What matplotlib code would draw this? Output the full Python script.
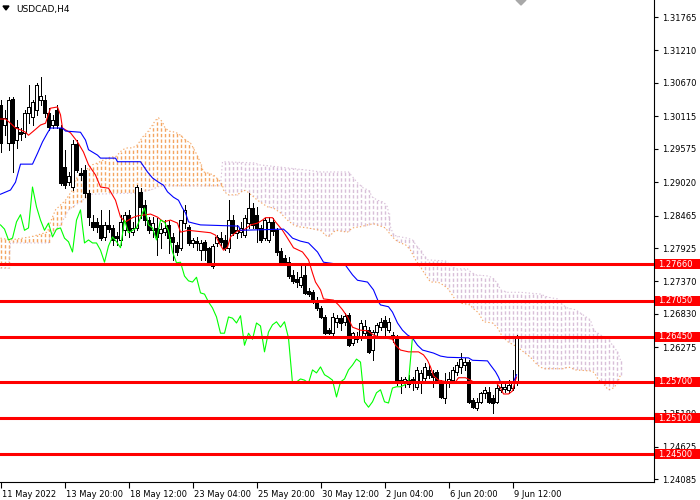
import numpy as np
import matplotlib
matplotlib.use("Agg")
import matplotlib.pyplot as plt
from matplotlib import transforms, patches
from matplotlib.collections import LineCollection

plt.rcParams['font.family'] = ['DejaVu Sans']

# ---------------- data (USDCAD H4) ----------------
opens = [
    1.3030, 1.2997, 1.2967, 1.3040, 1.2972, 1.2985, 1.2984, 1.3017, 1.3010, 1.3022,
    1.3039, 1.3039, 1.3017, 1.2997, 1.3022, 1.2992, 1.2927, 1.2902, 1.2894, 1.2966,
    1.2917, 1.2922, 1.2884, 1.2836, 1.2836, 1.2831, 1.2811, 1.2831, 1.2826, 1.2813,
    1.2806, 1.2822, 1.2848, 1.2819, 1.2826, 1.2886, 1.2864, 1.2839, 1.2822, 1.2826,
    1.2818, 1.2819, 1.2831, 1.2811, 1.2798, 1.2793, 1.2834, 1.2828, 1.2801, 1.2804,
    1.2789, 1.2803, 1.2793, 1.2763, 1.2801, 1.2809, 1.2806, 1.2793, 1.2839, 1.2818,
    1.2819, 1.2814, 1.2834, 1.2859, 1.2848, 1.2826, 1.2809, 1.2806, 1.2836, 1.2822,
    1.2788, 1.2776, 1.2769, 1.2748, 1.2741, 1.2731, 1.2748, 1.2721, 1.2719, 1.2705,
    1.2693, 1.2678, 1.2656, 1.2651, 1.2670, 1.2676, 1.2670, 1.2681, 1.2635, 1.2646,
    1.2645, 1.2651, 1.2656, 1.2623, 1.2653, 1.2661, 1.2673, 1.2656, 1.2648, 1.2643,
    1.2573, 1.2568, 1.2567, 1.2575, 1.2562, 1.2568, 1.2577, 1.2590, 1.2585, 1.2587,
    1.2570, 1.2543, 1.2568, 1.2573, 1.2587, 1.2595, 1.2598, 1.2603, 1.2540, 1.2527,
    1.2537, 1.2552, 1.2553, 1.2543, 1.2537, 1.2557, 1.2558, 1.2557, 1.2560, 1.2568]
highs = [
    1.3039, 1.3022, 1.3044, 1.3044, 1.3005, 1.2992, 1.3022, 1.3064, 1.3039, 1.3067,
    1.3077, 1.3047, 1.3025, 1.3014, 1.3030, 1.2997, 1.2956, 1.2919, 1.2972, 1.2972,
    1.2926, 1.2931, 1.2889, 1.2848, 1.2843, 1.2856, 1.2836, 1.2856, 1.2831, 1.2819,
    1.2848, 1.2852, 1.2856, 1.2836, 1.2897, 1.2892, 1.2872, 1.2844, 1.2844, 1.2843,
    1.2834, 1.2839, 1.2839, 1.2818, 1.2803, 1.2839, 1.2864, 1.2831, 1.2809, 1.2811,
    1.2806, 1.2806, 1.2794, 1.2799, 1.2814, 1.2819, 1.2814, 1.2872, 1.2848, 1.2831,
    1.2836, 1.2848, 1.2884, 1.2867, 1.2861, 1.2831, 1.2843, 1.2844, 1.2843, 1.2826,
    1.2793, 1.2781, 1.2778, 1.2756, 1.2753, 1.2764, 1.2764, 1.2726, 1.2723, 1.2711,
    1.2696, 1.2681, 1.2660, 1.2685, 1.2681, 1.2681, 1.2685, 1.2685, 1.2653, 1.2653,
    1.2673, 1.2673, 1.2661, 1.2656, 1.2668, 1.2676, 1.2680, 1.2676, 1.2653, 1.2648,
    1.2578, 1.2578, 1.2582, 1.2578, 1.2595, 1.2590, 1.2602, 1.2598, 1.2590, 1.2590,
    1.2573, 1.2585, 1.2587, 1.2595, 1.2603, 1.2618, 1.2610, 1.2606, 1.2543, 1.2543,
    1.2553, 1.2562, 1.2562, 1.2548, 1.2565, 1.2568, 1.2570, 1.2573, 1.2590, 1.2648]
lows = [
    1.2952, 1.2980, 1.2956, 1.2919, 1.2959, 1.2972, 1.2977, 1.3000, 1.2997, 1.3014,
    1.3030, 1.3010, 1.2989, 1.2992, 1.2992, 1.2897, 1.2892, 1.2897, 1.2889, 1.2919,
    1.2906, 1.2877, 1.2831, 1.2822, 1.2819, 1.2806, 1.2806, 1.2819, 1.2798, 1.2798,
    1.2798, 1.2814, 1.2811, 1.2814, 1.2822, 1.2843, 1.2831, 1.2818, 1.2811, 1.2781,
    1.2793, 1.2814, 1.2784, 1.2773, 1.2781, 1.2789, 1.2826, 1.2798, 1.2794, 1.2789,
    1.2773, 1.2773, 1.2766, 1.2759, 1.2796, 1.2798, 1.2789, 1.2786, 1.2814, 1.2809,
    1.2811, 1.2811, 1.2826, 1.2826, 1.2803, 1.2803, 1.2806, 1.2803, 1.2814, 1.2781,
    1.2766, 1.2766, 1.2743, 1.2734, 1.2728, 1.2728, 1.2716, 1.2713, 1.2701, 1.2690,
    1.2676, 1.2650, 1.2650, 1.2648, 1.2661, 1.2656, 1.2665, 1.2630, 1.2631, 1.2636,
    1.2640, 1.2645, 1.2618, 1.2606, 1.2648, 1.2656, 1.2648, 1.2653, 1.2636, 1.2565,
    1.2552, 1.2562, 1.2562, 1.2557, 1.2558, 1.2552, 1.2573, 1.2577, 1.2562, 1.2568,
    1.2543, 1.2535, 1.2562, 1.2570, 1.2582, 1.2585, 1.2590, 1.2535, 1.2527, 1.2523,
    1.2535, 1.2543, 1.2535, 1.2518, 1.2535, 1.2553, 1.2553, 1.2552, 1.2557, 1.2565]
closes = [
    1.2967, 1.3009, 1.3039, 1.2967, 1.2994, 1.2982, 1.3017, 1.3027, 1.3035, 1.3064,
    1.3045, 1.3017, 1.2994, 1.3005, 1.2997, 1.2901, 1.2897, 1.2912, 1.2966, 1.2922,
    1.2914, 1.2884, 1.2844, 1.2828, 1.2828, 1.2809, 1.2831, 1.2824, 1.2806, 1.2809,
    1.2836, 1.2848, 1.2822, 1.2826, 1.2894, 1.2861, 1.2839, 1.2822, 1.2834, 1.2811,
    1.2824, 1.2826, 1.2809, 1.2803, 1.2786, 1.2839, 1.2856, 1.2801, 1.2806, 1.2801,
    1.2801, 1.2789, 1.2769, 1.2796, 1.2811, 1.2803, 1.2793, 1.2839, 1.2818, 1.2822,
    1.2826, 1.2843, 1.2859, 1.2831, 1.2826, 1.2806, 1.2839, 1.2836, 1.2821, 1.2786,
    1.2768, 1.2769, 1.2746, 1.2738, 1.2736, 1.2744, 1.2718, 1.2716, 1.2703, 1.2693,
    1.2678, 1.2651, 1.2651, 1.2678, 1.2676, 1.2668, 1.2680, 1.2631, 1.2651, 1.2641,
    1.2668, 1.2663, 1.2620, 1.2653, 1.2665, 1.2670, 1.2661, 1.2670, 1.2643, 1.2568,
    1.2570, 1.2575, 1.2573, 1.2568, 1.2590, 1.2585, 1.2595, 1.2582, 1.2578, 1.2573,
    1.2545, 1.2570, 1.2575, 1.2590, 1.2598, 1.2608, 1.2603, 1.2537, 1.2528, 1.2537,
    1.2552, 1.2557, 1.2537, 1.2535, 1.2560, 1.2562, 1.2562, 1.2565, 1.2570, 1.2645]

# Ichimoku lines (bar index, price)
tenkan_x = [0, 1.25, 2.5, 3.75, 5, 6.25, 7, 8.25, 10, 11.25, 12.5, 14.25, 15, 15.5, 17.5, 19.25,
            20.75, 22, 23.75, 25, 27, 28.75, 30, 31.25, 33, 34.25, 37.5, 39.25, 40.75, 42.5,
            44.25, 45, 47, 52.5, 53.75, 54.5, 55.75, 56.75, 57.5, 59.25, 60.75, 62.5, 64.25,
            65.5, 66.25, 68, 68.75, 70.5, 71.75, 73.25, 75.5, 77, 78, 78.75, 80, 80.75, 83.25,
            84.5, 85.5, 86.75, 88, 90, 91.75, 93.25, 94.5, 98, 98.75, 100, 102, 104.5, 105.75,
            106.75, 107.5, 108.25, 109.5, 111.75, 113.75, 114.5, 116.25, 117.5, 118.25, 123.75,
            125, 125.75, 127, 128, 128.75, 129]
tenkan_v = [1.3007, 1.3007, 1.3000, 1.2992, 1.2989, 1.2985, 1.2980, 1.2987, 1.2997, 1.3000,
            1.3025, 1.3027, 1.3014, 1.2992, 1.2984, 1.2969, 1.2952, 1.2931, 1.2914, 1.2894,
            1.2892, 1.2872, 1.2844, 1.2836, 1.2843, 1.2846, 1.2849, 1.2844, 1.2836, 1.2839,
            1.2834, 1.2819, 1.2822, 1.2818, 1.2814, 1.2803, 1.2789, 1.2794, 1.2811, 1.2821,
            1.2822, 1.2831, 1.2834, 1.2839, 1.2843, 1.2843, 1.2836, 1.2822, 1.2809, 1.2793,
            1.2786, 1.2773, 1.2751, 1.2736, 1.2723, 1.2708, 1.2706, 1.2698, 1.2690, 1.2678,
            1.2661, 1.2656, 1.2655, 1.2648, 1.2645, 1.2641, 1.2631, 1.2623, 1.2620, 1.2620,
            1.2615, 1.2606, 1.2595, 1.2580, 1.2573, 1.2570, 1.2570, 1.2577, 1.2577, 1.2573,
            1.2570, 1.2570, 1.2560, 1.2550, 1.2550, 1.2555, 1.2573, 1.2578]

kijun_x = [0, 2.5, 3.75, 5, 8, 9.25, 10.5, 11.75, 12.5, 15.5, 16.25, 20, 21.25, 22, 24.25, 25,
           28.75, 29.25, 35, 36.75, 38, 39.5, 40.75, 41.75, 43.25, 44.5, 45.5, 46.25, 47, 48.75,
           50, 59.5, 60, 70.75, 71.75, 73, 75, 77, 79.25, 80.75, 86.25, 88, 89.25, 91.75, 93.25,
           94.5, 95, 97, 98, 99.25, 100.5, 101.75, 103, 104.25, 105.5, 108.25, 110, 111.75, 117,
           118, 121.75, 122.5, 123.75, 124.5, 125, 128.25, 128.75, 129]
kijun_v = [1.2882, 1.2889, 1.2902, 1.2932, 1.2932, 1.2950, 1.2969, 1.2984, 1.2992, 1.2992,
           1.2987, 1.2985, 1.2972, 1.2956, 1.2947, 1.2942, 1.2942, 1.2936, 1.2936, 1.2919,
           1.2909, 1.2902, 1.2897, 1.2886, 1.2877, 1.2872, 1.2859, 1.2851, 1.2836, 1.2833,
           1.2831, 1.2829, 1.2822, 1.2824, 1.2818, 1.2809, 1.2804, 1.2801, 1.2786, 1.2769,
           1.2764, 1.2748, 1.2739, 1.2736, 1.2723, 1.2703, 1.2698, 1.2695, 1.2686, 1.2668,
           1.2656, 1.2648, 1.2643, 1.2631, 1.2623, 1.2618, 1.2613, 1.2611, 1.2610, 1.2606,
           1.2605, 1.2598, 1.2587, 1.2578, 1.2570, 1.2570, 1.2578, 1.2582]

spanA_x = [0, 2.5, 7.5, 11.75, 12.5, 13.75, 16.25, 18, 18.75, 20, 21.25, 23, 24.25, 25.75, 27.5,
           28.75, 30.5, 31.75, 33, 34.25, 35.5, 36.75, 38, 38.75, 39.5, 40.5, 41, 42, 43.75, 45,
           46.25, 47.5, 48.75, 49.5, 50.75, 52, 53.25, 54.5, 55.5, 55.75, 56.75, 59.25, 60.75,
           61.75, 64.25, 66.75, 68.25, 70, 71.75, 73.25, 74.5, 76.75, 80, 81.75, 82.5, 83.75,
           86.75, 88, 90, 91.75, 93.25, 95, 96.25, 97, 98, 98.75, 100, 101.25, 102.5, 103.75,
           105, 105.75, 106.75, 107.5, 109.25, 110, 111.75, 113, 113.75, 115, 117.5, 118, 119.5,
           120.75, 123, 124.25, 125.5, 127, 129.25, 130.75, 132.5, 134.25, 135.75, 140.75, 142,
           143.75, 148, 148.75, 149.5, 150.5, 151.25, 152, 153.25, 154.25, 155]
spanA_v = [1.2809, 1.2806, 1.2811, 1.2819, 1.2836, 1.2856, 1.2872, 1.2889, 1.2906, 1.2917,
           1.2922, 1.2931, 1.2934, 1.2939, 1.2944, 1.2944, 1.2956, 1.2959, 1.2959, 1.2964,
           1.2977, 1.2985, 1.2997, 1.3005, 1.3009, 1.3002, 1.2994, 1.2987, 1.2985, 1.2980,
           1.2972, 1.2967, 1.2952, 1.2942, 1.2919, 1.2917, 1.2914, 1.2906, 1.2897, 1.2889,
           1.2881, 1.2881, 1.2889, 1.2886, 1.2872, 1.2861, 1.2859, 1.2851, 1.2839, 1.2831,
           1.2828, 1.2826, 1.2822, 1.2811, 1.2814, 1.2822, 1.2819, 1.2826, 1.2828, 1.2831,
           1.2833, 1.2829, 1.2826, 1.2819, 1.2811, 1.2806, 1.2801, 1.2798, 1.2789, 1.2773,
           1.2761, 1.2753, 1.2743, 1.2736, 1.2736, 1.2734, 1.2726, 1.2714, 1.2706, 1.2701,
           1.2698, 1.2693, 1.2685, 1.2670, 1.2668, 1.2660, 1.2645, 1.2636, 1.2628, 1.2620,
           1.2611, 1.2598, 1.2592, 1.2592, 1.2595, 1.2590, 1.2588, 1.2582, 1.2573, 1.2570,
           1.2562, 1.2557, 1.2560, 1.2568, 1.2582]

spanB_x = [0, 2, 2.5, 12, 12.5, 15, 17, 18.75, 20.5, 22.5, 34.25, 35, 37.5, 40, 55, 55.5, 63.75,
           64.5, 76.75, 80, 87, 88, 89.25, 90.75, 92, 93, 94.25, 95.75, 96.75, 97.5, 98.25, 100,
           101.75, 103, 104.25, 105, 105.75, 106.75, 111.25, 112.5, 113.75, 116.75, 117.5,
           118.75, 122, 123, 124.25, 125, 126.75, 130, 135, 136.75, 139.25, 140.5, 141.75,
           143.75, 145.75, 147.5, 148.25, 150, 151.75, 153, 154.25, 155]
spanB_v = [1.2759, 1.2759, 1.2801, 1.2801, 1.2814, 1.2831, 1.2856, 1.2864, 1.2872, 1.2882,
           1.2884, 1.2886, 1.2889, 1.2896, 1.2896, 1.2936, 1.2934, 1.2931, 1.2922, 1.2919,
           1.2919, 1.2911, 1.2901, 1.2892, 1.2889, 1.2877, 1.2872, 1.2869, 1.2861, 1.2828,
           1.2814, 1.2811, 1.2809, 1.2806, 1.2794, 1.2789, 1.2781, 1.2773, 1.2771, 1.2764,
           1.2758, 1.2758, 1.2753, 1.2748, 1.2746, 1.2743, 1.2734, 1.2723, 1.2719, 1.2719,
           1.2716, 1.2711, 1.2708, 1.2698, 1.2693, 1.2690, 1.2681, 1.2673, 1.2656, 1.2648,
           1.2643, 1.2631, 1.2620, 1.2606]

levels = [1.2766, 1.2705, 1.2645, 1.2570, 1.2510, 1.2450]
ytick_vals = [1.31765, 1.31210, 1.30670, 1.30115, 1.29575, 1.29020, 1.28465, 1.27925,
              1.27370, 1.26830, 1.26275, 1.25180, 1.24625, 1.24085]
xtick_pos = [0, 16, 32, 48, 64, 80, 96, 112, 128]
xtick_labels = ["11 May 2022", "13 May 20:00", "18 May 12:00", "23 May 04:00", "25 May 20:00",
                "30 May 12:00", "2 Jun 04:00", "6 Jun 20:00", "9 Jun 12:00"]
title = "USDCAD,H4"

# ---------------- layout ----------------
W, H = 700, 500
PLOT_R, PLOT_B = 654, 482
YTOP, YBOT = 1.32048, 1.24037
SANDY = '#F4A460'
THISTLE = '#D8BFD8'
PX = 0.72  # one pixel in points at 100 dpi

fig = plt.figure(figsize=(W / 100, H / 100), dpi=100)
fig.patch.set_facecolor('white')
ax = fig.add_axes([0, (H - PLOT_B) / H, PLOT_R / W, PLOT_B / H])
ax.set_facecolor('white')
ax.set_xlim(-0.125, (PLOT_R - 0.5) / 4)
ax.set_ylim(YBOT, YTOP)

# ---- Kumo (cloud) hatching: one dashed vertical line per bar ----
n_cloud = int(max(spanA_x)) + 1
idx = np.arange(0, n_cloud)
A = np.interp(idx, spanA_x, spanA_v)
B = np.interp(idx, spanB_x, spanB_v)
lw_c = 1.0
on, off = 2.4, 1.6          # in units of linewidth
period_pts = (on + off) * lw_c
segs, cols, styles = [], [], []
for i, a, b in zip(idx, A, B):
    top, bot = max(a, b), min(a, b)
    if top - bot < 1e-6:
        continue
    ytop_px = (YTOP - top) / (YTOP - YBOT) * PLOT_B
    phase = (ytop_px * PX) % period_pts
    segs.append([(i, top), (i, bot)])
    cols.append(SANDY if a > b else THISTLE)
    styles.append((phase / lw_c, (on, off)))
ax.add_collection(LineCollection(segs, colors=cols, linewidths=lw_c,
                                 linestyles=styles, zorder=1))
ax.plot(spanA_x, spanA_v, color=SANDY, lw=0.8, ls=(0, (1.2, 2.0)), zorder=1.2)
ax.plot(spanB_x, spanB_v, color=THISTLE, lw=0.8, ls=(0, (1.2, 2.0)), zorder=1.2)

# ---- candles ----
o = np.array(opens); h = np.array(highs); l = np.array(lows); c = np.array(closes)
xs = np.arange(len(o))
ax.vlines(xs, l, h, color='black', lw=PX, antialiased=False, zorder=3)
bull = c >= o
faces = ['white' if b else 'black' for b in bull]
ax.bar(xs, np.abs(c - o), bottom=np.minimum(o, c), width=0.6, color=faces,
       edgecolor='black', linewidth=PX, antialiased=False, zorder=3.5)

# ---- Ichimoku lines ----
ax.plot(tenkan_x, tenkan_v, color='#FF0000', lw=0.8, zorder=4)
ax.plot(kijun_x, kijun_v, color='#0000FF', lw=0.8, zorder=4)
chikou_x = xs[26:] - 26
ax.plot(chikou_x, c[26:], color='#00FF00', lw=0.8, zorder=4)

# ---- horizontal levels ----
for lv in levels:
    ax.axhline(lv, color='#FF0000', lw=2.2, zorder=6)

# ---- axes styling ----
for s in ['top', 'left']:
    ax.spines[s].set_visible(False)
for s in ['right', 'bottom']:
    ax.spines[s].set_color('black')
    ax.spines[s].set_linewidth(0.8)
ax.yaxis.tick_right()
ax.set_yticks(ytick_vals)
ax.set_yticklabels([f"{v:.5f}" for v in ytick_vals])
ax.tick_params(axis='y', direction='out', length=3, width=0.8, pad=2.5,
               labelsize=6, colors='black')
ax.set_xticks(xtick_pos)
ax.set_xticklabels(xtick_labels, ha='left')
ax.tick_params(axis='x', direction='out', length=4, width=0.8, pad=1.5,
               labelsize=6, colors='black')
shift = transforms.ScaledTranslation(1.5 / 100, 0, fig.dpi_scale_trans)
for lbl in ax.get_xticklabels():
    lbl.set_transform(lbl.get_transform() + shift)

# ---- price labels for levels ----
blend = transforms.blended_transform_factory(fig.transFigure, ax.transData)
hh = 5.0 * (YTOP - YBOT) / PLOT_B
for lv in levels:
    ax.add_patch(patches.Rectangle((655 / W, lv - hh), 45 / W, 2 * hh, transform=blend,
                                   facecolor='#FF0000', edgecolor='none',
                                   clip_on=False, zorder=10))
    ax.text(658 / W, lv, f"{lv:.5f}", transform=blend, color='white', fontsize=6,
            va='center', ha='left', zorder=11, clip_on=False)

# ---- title and markers ----
fig.text(16 / W, 1 - 9.5 / H, title, fontsize=6.5, va='center', ha='left', color='#000000')
fig.add_artist(patches.Polygon([[3 / W, 1 - 6 / H], [9 / W, 1 - 6 / H], [6 / W, 1 - 10 / H]],
                               closed=True, transform=fig.transFigure, color='black'))
fig.add_artist(patches.Polygon([[516 / W, 1.0], [526 / W, 1.0], [521 / W, 1 - 5 / H]],
                               closed=True, transform=fig.transFigure, color='#A8A8A8'))

fig.savefig("out.png", dpi=100, facecolor='white')
